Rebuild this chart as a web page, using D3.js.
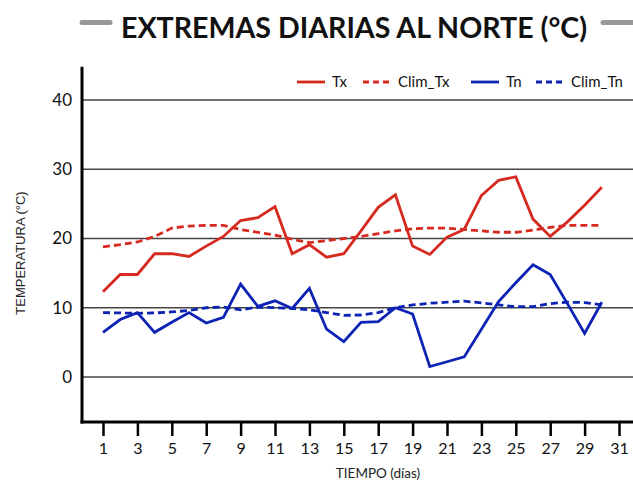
<!DOCTYPE html>
<html><head><meta charset="utf-8">
<script src="https://cdn.jsdelivr.net/npm/d3@7"></script>
<style>html,body{margin:0;padding:0;background:#fff;overflow:hidden}</style>
</head><body>
<script>
const days = d3.range(1, 31);
const tx = [12.3,14.8,14.8,17.8,17.8,17.4,18.9,20.3,22.6,23.0,24.6,17.8,19.1,17.3,17.8,21.1,24.5,26.3,18.9,17.7,20.2,21.3,26.2,28.4,28.9,22.8,20.3,22.4,24.8,27.4];
const climTx = [18.8,19.1,19.5,20.3,21.5,21.8,21.9,21.9,21.3,20.9,20.5,19.9,19.4,19.7,20.0,20.3,20.7,21.1,21.4,21.5,21.5,21.3,21.1,20.9,20.9,21.2,21.6,21.9,21.9,21.9];
const tn = [6.45,8.3,9.3,6.45,7.9,9.3,7.8,8.6,13.4,10.2,11.0,9.9,12.8,6.9,5.1,7.9,8.0,10.0,9.1,1.5,2.2,2.9,6.9,10.9,13.6,16.2,14.8,10.6,6.3,10.8];
const climTn = [9.3,9.25,9.2,9.25,9.4,9.6,10.0,10.1,9.7,10.1,10.0,9.9,9.7,9.3,8.9,8.95,9.3,10.0,10.4,10.65,10.8,10.95,10.7,10.4,10.15,10.15,10.6,10.8,10.75,10.4];
const yTicks = [0,10,20,30,40];
const xTicks = d3.range(1, 32, 2);
const seriesNames = ["Tx","Clim_Tx","Tn","Clim_Tn"];

const W = 633, H = 481;
const RED = "#d62a20", BLUE = "#0c23b4";
const svg = d3.select("body").append("svg").attr("width", W).attr("height", H);

const x = d3.scaleLinear().domain([1, 31]).range([103, 619]);
const y = d3.scaleLinear().domain([0, 40]).range([377, 100]);
const axisX = 82, yTop = y(44.8), yBot = y(-6.5);

// Title
svg.append("text").attr("x", 354).attr("y", 38).attr("text-anchor", "middle")
  .attr("font-family", "Lato").attr("font-weight", 700).attr("font-size", 29)
  .attr("textLength", 466).attr("lengthAdjust", "spacingAndGlyphs")
  .attr("fill", "#111").text("EXTREMAS DIARIAS AL NORTE (°C)");
svg.append("line").attr("x1", 82).attr("x2", 110).attr("y1", 22.5).attr("y2", 22.5)
  .attr("stroke", "#999").attr("stroke-width", 5).attr("stroke-linecap", "round");
svg.append("line").attr("x1", 603).attr("x2", 640).attr("y1", 22.5).attr("y2", 22.5)
  .attr("stroke", "#999").attr("stroke-width", 5).attr("stroke-linecap", "round");

// Gridlines
svg.append("g").selectAll("line").data(yTicks).join("line")
  .attr("x1", axisX).attr("x2", W).attr("y1", d => y(d)).attr("y2", d => y(d))
  .attr("stroke", "#444").attr("stroke-width", 1.3);

// Y axis
const gy = svg.append("g").attr("transform", `translate(${axisX},0)`)
  .call(d3.axisLeft(y).tickValues(yTicks).tickSize(0).tickPadding(10));
gy.select(".domain").remove();
gy.selectAll("text").attr("font-family", "Lato").attr("font-size", 17).attr("fill", "#111");
svg.append("line").attr("x1", axisX).attr("x2", axisX).attr("y1", yTop).attr("y2", yBot + 1.5)
  .attr("stroke", "#000").attr("stroke-width", 3);

// X axis
const gx = svg.append("g").attr("transform", `translate(0,${yBot})`)
  .call(d3.axisBottom(x).tickValues(xTicks).tickSize(14).tickPadding(7));
gx.select(".domain").remove();
gx.selectAll(".tick line").attr("stroke", "#000").attr("stroke-width", 2.5);
gx.selectAll("text").attr("font-family", "Lato").attr("font-size", 16).attr("fill", "#111");
svg.append("line").attr("x1", axisX - 1.5).attr("x2", W).attr("y1", yBot).attr("y2", yBot)
  .attr("stroke", "#000").attr("stroke-width", 3);

// Axis titles
svg.append("text").attr("transform", `translate(25,253) rotate(-90)`).attr("text-anchor", "middle")
  .attr("font-family", "Liberation Sans").attr("font-size", 13).attr("fill", "#222")
  .text("TEMPERATURA (°C)");
svg.append("text").attr("x", 378).attr("y", 478).attr("text-anchor", "middle")
  .attr("font-family", "Lato").attr("font-size", 13.5).attr("fill", "#222").text("TIEMPO (días)");

// Lines
const line = vals => d3.line().x((d, i) => x(days[i])).y(d => y(d))(vals);
const series = [
  {name: seriesNames[0], vals: tx, color: RED, dash: null},
  {name: seriesNames[1], vals: climTx, color: RED, dash: "7,4"},
  {name: seriesNames[2], vals: tn, color: BLUE, dash: null},
  {name: seriesNames[3], vals: climTn, color: BLUE, dash: "7,4"}
];
series.forEach(s => {
  svg.append("path").attr("d", line(s.vals)).attr("fill", "none")
    .attr("stroke", s.color).attr("stroke-width", 2.8)
    .attr("stroke-dasharray", s.dash).attr("stroke-linejoin", "miter");
});

// Legend
const legX = [297, 363, 471, 536];
series.forEach((s, i) => {
  svg.append("line").attr("x1", legX[i]).attr("x2", legX[i] + 28).attr("y1", 82).attr("y2", 82)
    .attr("stroke", s.color).attr("stroke-width", 2.8).attr("stroke-dasharray", s.dash ? "6,4" : null);
  svg.append("text").attr("x", legX[i] + 35).attr("y", 87)
    .attr("font-family", "Lato").attr("font-size", 15).attr("fill", "#111").text(s.name);
});
</script>
</body></html>
